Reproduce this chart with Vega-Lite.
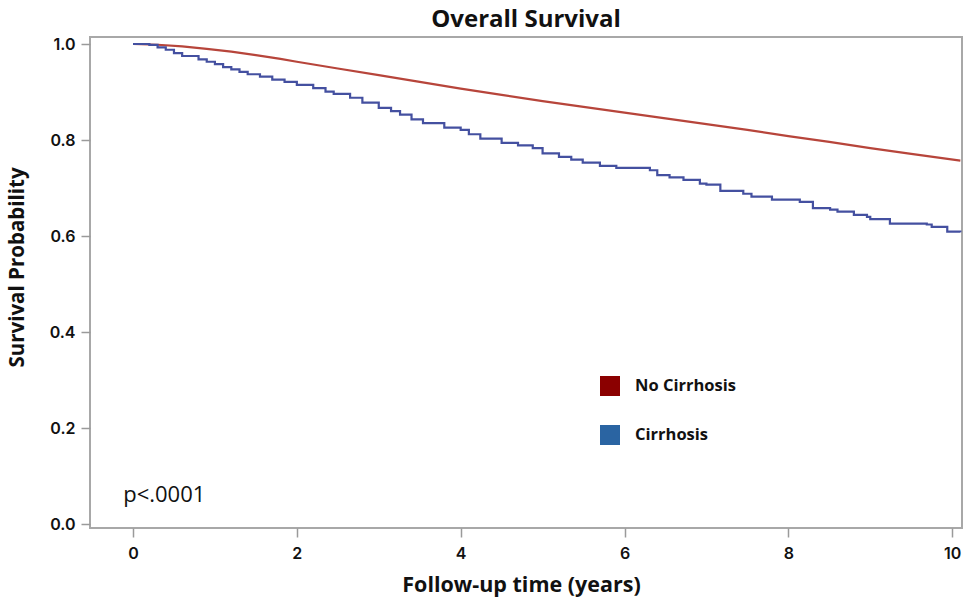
{
  "$schema": "https://vega.github.io/schema/vega-lite/v6.json",
  "autosize": "none",
  "width": 872,
  "height": 491,
  "padding": {"left": 90, "top": 37, "right": 5, "bottom": 78},
  "background": "white",
  "title": {
    "text": "Overall Survival",
    "font": "Open Sans",
    "fontSize": 24,
    "fontWeight": "bold",
    "color": "#111111",
    "anchor": "middle",
    "offset": 4
  },
  "config": {
    "view": {"stroke": "#a8a8a8", "strokeWidth": 2},
    "axis": {
      "grid": false,
      "domain": false,
      "tickColor": "#9a9a9a",
      "tickWidth": 1.5,
      "tickSize": 9,
      "labelFont": "Inter",
      "labelFontSize": 16,
      "labelFontWeight": 600,
      "labelColor": "#111111",
      "titleFont": "Open Sans",
      "titleFontSize": 21.5,
      "titleFontWeight": "bold",
      "titleColor": "#111111"
    }
  },
  "datasets": {
    "curves": [
      {"group": "No Cirrhosis", "t": 0, "s": 1.0},
      {"group": "No Cirrhosis", "t": 0.3, "s": 0.9985},
      {"group": "No Cirrhosis", "t": 0.6, "s": 0.995},
      {"group": "No Cirrhosis", "t": 0.9, "s": 0.99},
      {"group": "No Cirrhosis", "t": 1.2, "s": 0.984},
      {"group": "No Cirrhosis", "t": 1.5, "s": 0.977},
      {"group": "No Cirrhosis", "t": 1.8, "s": 0.969},
      {"group": "No Cirrhosis", "t": 2.0, "s": 0.963},
      {"group": "No Cirrhosis", "t": 2.5, "s": 0.949},
      {"group": "No Cirrhosis", "t": 3.0, "s": 0.935},
      {"group": "No Cirrhosis", "t": 3.5, "s": 0.921},
      {"group": "No Cirrhosis", "t": 4.0, "s": 0.907},
      {"group": "No Cirrhosis", "t": 4.5, "s": 0.894},
      {"group": "No Cirrhosis", "t": 5.0, "s": 0.881},
      {"group": "No Cirrhosis", "t": 5.5, "s": 0.869},
      {"group": "No Cirrhosis", "t": 6.0, "s": 0.857},
      {"group": "No Cirrhosis", "t": 6.5, "s": 0.845},
      {"group": "No Cirrhosis", "t": 7.0, "s": 0.833},
      {"group": "No Cirrhosis", "t": 7.5, "s": 0.821},
      {"group": "No Cirrhosis", "t": 8.0, "s": 0.808},
      {"group": "No Cirrhosis", "t": 8.5, "s": 0.796},
      {"group": "No Cirrhosis", "t": 9.0, "s": 0.783},
      {"group": "No Cirrhosis", "t": 9.5, "s": 0.771},
      {"group": "No Cirrhosis", "t": 10.1, "s": 0.757},
      {"group": "Cirrhosis", "t": 0, "s": 1.0},
      {"group": "Cirrhosis", "t": 0.2, "s": 0.998},
      {"group": "Cirrhosis", "t": 0.3, "s": 0.993},
      {"group": "Cirrhosis", "t": 0.4, "s": 0.988},
      {"group": "Cirrhosis", "t": 0.5, "s": 0.981},
      {"group": "Cirrhosis", "t": 0.6, "s": 0.975},
      {"group": "Cirrhosis", "t": 0.8, "s": 0.968},
      {"group": "Cirrhosis", "t": 0.9, "s": 0.963},
      {"group": "Cirrhosis", "t": 1.0, "s": 0.958},
      {"group": "Cirrhosis", "t": 1.1, "s": 0.952},
      {"group": "Cirrhosis", "t": 1.2, "s": 0.947},
      {"group": "Cirrhosis", "t": 1.3, "s": 0.942},
      {"group": "Cirrhosis", "t": 1.4, "s": 0.937},
      {"group": "Cirrhosis", "t": 1.55, "s": 0.932},
      {"group": "Cirrhosis", "t": 1.7, "s": 0.926},
      {"group": "Cirrhosis", "t": 1.85, "s": 0.921},
      {"group": "Cirrhosis", "t": 2.0, "s": 0.915},
      {"group": "Cirrhosis", "t": 2.2, "s": 0.908},
      {"group": "Cirrhosis", "t": 2.35, "s": 0.901},
      {"group": "Cirrhosis", "t": 2.45, "s": 0.896},
      {"group": "Cirrhosis", "t": 2.65, "s": 0.888},
      {"group": "Cirrhosis", "t": 2.8, "s": 0.878},
      {"group": "Cirrhosis", "t": 3.0, "s": 0.867},
      {"group": "Cirrhosis", "t": 3.15, "s": 0.86},
      {"group": "Cirrhosis", "t": 3.26, "s": 0.853},
      {"group": "Cirrhosis", "t": 3.4, "s": 0.843},
      {"group": "Cirrhosis", "t": 3.54, "s": 0.835},
      {"group": "Cirrhosis", "t": 3.8, "s": 0.826},
      {"group": "Cirrhosis", "t": 4.0, "s": 0.821},
      {"group": "Cirrhosis", "t": 4.1, "s": 0.812},
      {"group": "Cirrhosis", "t": 4.24, "s": 0.803},
      {"group": "Cirrhosis", "t": 4.5, "s": 0.794},
      {"group": "Cirrhosis", "t": 4.7, "s": 0.789},
      {"group": "Cirrhosis", "t": 4.88, "s": 0.783},
      {"group": "Cirrhosis", "t": 5.0, "s": 0.772},
      {"group": "Cirrhosis", "t": 5.2, "s": 0.765},
      {"group": "Cirrhosis", "t": 5.35, "s": 0.759},
      {"group": "Cirrhosis", "t": 5.49, "s": 0.753},
      {"group": "Cirrhosis", "t": 5.7, "s": 0.746},
      {"group": "Cirrhosis", "t": 5.9, "s": 0.742},
      {"group": "Cirrhosis", "t": 6.31, "s": 0.737},
      {"group": "Cirrhosis", "t": 6.4, "s": 0.727},
      {"group": "Cirrhosis", "t": 6.55, "s": 0.722},
      {"group": "Cirrhosis", "t": 6.72, "s": 0.717},
      {"group": "Cirrhosis", "t": 6.92, "s": 0.709},
      {"group": "Cirrhosis", "t": 7.0, "s": 0.707},
      {"group": "Cirrhosis", "t": 7.17, "s": 0.694},
      {"group": "Cirrhosis", "t": 7.45, "s": 0.688},
      {"group": "Cirrhosis", "t": 7.55, "s": 0.682},
      {"group": "Cirrhosis", "t": 7.8, "s": 0.676},
      {"group": "Cirrhosis", "t": 8.14, "s": 0.671},
      {"group": "Cirrhosis", "t": 8.3, "s": 0.658},
      {"group": "Cirrhosis", "t": 8.51, "s": 0.655},
      {"group": "Cirrhosis", "t": 8.6, "s": 0.651},
      {"group": "Cirrhosis", "t": 8.8, "s": 0.644},
      {"group": "Cirrhosis", "t": 8.96, "s": 0.64},
      {"group": "Cirrhosis", "t": 9.0, "s": 0.635},
      {"group": "Cirrhosis", "t": 9.24, "s": 0.626},
      {"group": "Cirrhosis", "t": 9.69, "s": 0.624},
      {"group": "Cirrhosis", "t": 9.75, "s": 0.619},
      {"group": "Cirrhosis", "t": 9.94, "s": 0.609},
      {"group": "Cirrhosis", "t": 10.1, "s": 0.608}
    ],
    "notes": [
      {"t": -0.12, "s": 0.045, "label": "p<.0001"}
    ]
  },
  "encoding": {
    "x": {
      "field": "t",
      "type": "quantitative",
      "scale": {"domain": [-0.525, 10.12], "nice": false, "zero": false},
      "axis": {
        "values": [0, 2, 4, 6, 8, 10],
        "format": "d",
        "title": "Follow-up time (years)",
        "labelPadding": 8,
        "titleX": 431,
        "titleY": 57,
        "titleBaseline": "middle"
      }
    },
    "y": {
      "field": "s",
      "type": "quantitative",
      "scale": {"domain": [-0.0083, 1.0146], "nice": false, "zero": false},
      "axis": {
        "values": [0, 0.2, 0.4, 0.6, 0.8, 1.0],
        "format": ".1f",
        "title": "Survival Probability",
        "titleFontSize": 20.5,
        "labelPadding": 6,
        "titleX": -73,
        "titleY": 230,
        "titleBaseline": "middle"
      }
    }
  },
  "layer": [
    {
      "data": {"name": "curves"},
      "transform": [{"filter": "datum.group === 'No Cirrhosis'"}],
      "mark": {"type": "line", "interpolate": "linear", "strokeWidth": 2.2, "clip": true},
      "encoding": {
        "color": {
          "field": "group",
          "type": "nominal",
          "scale": {"domain": ["No Cirrhosis", "Cirrhosis"], "range": ["#b7453b", "#4450a0"]},
          "legend": {
            "title": null,
            "orient": "none",
            "legendX": 510,
            "legendY": 339,
            "padding": 0,
            "symbolType": "square",
            "symbolSize": 400,
            "symbolStrokeWidth": 0,
            "rowPadding": 29,
            "labelOffset": 15,
            "labelFont": "Open Sans",
            "labelFontSize": 16.5,
            "labelFontWeight": "bold",
            "labelColor": "#111111",
            "encode": {
              "symbols": {
                "update": {
                  "fill": {"signal": "datum.value === 'No Cirrhosis' ? '#8b0000' : '#2a64a2'"},
                  "stroke": {"signal": "datum.value === 'No Cirrhosis' ? '#8b0000' : '#2a64a2'"},
                  "strokeWidth": {"value": 0}
                }
              }
            }
          }
        }
      }
    },
    {
      "data": {"name": "curves"},
      "transform": [{"filter": "datum.group === 'Cirrhosis'"}],
      "mark": {"type": "line", "interpolate": "step-after", "strokeWidth": 2.2, "clip": true},
      "encoding": {
        "color": {"field": "group", "type": "nominal"}
      }
    },
    {
      "data": {"name": "notes"},
      "mark": {"type": "text", "align": "left", "baseline": "alphabetic", "font": "Open Sans", "fontSize": 22, "color": "#111111"},
      "encoding": {
        "text": {"field": "label"}
      }
    }
  ]
}
